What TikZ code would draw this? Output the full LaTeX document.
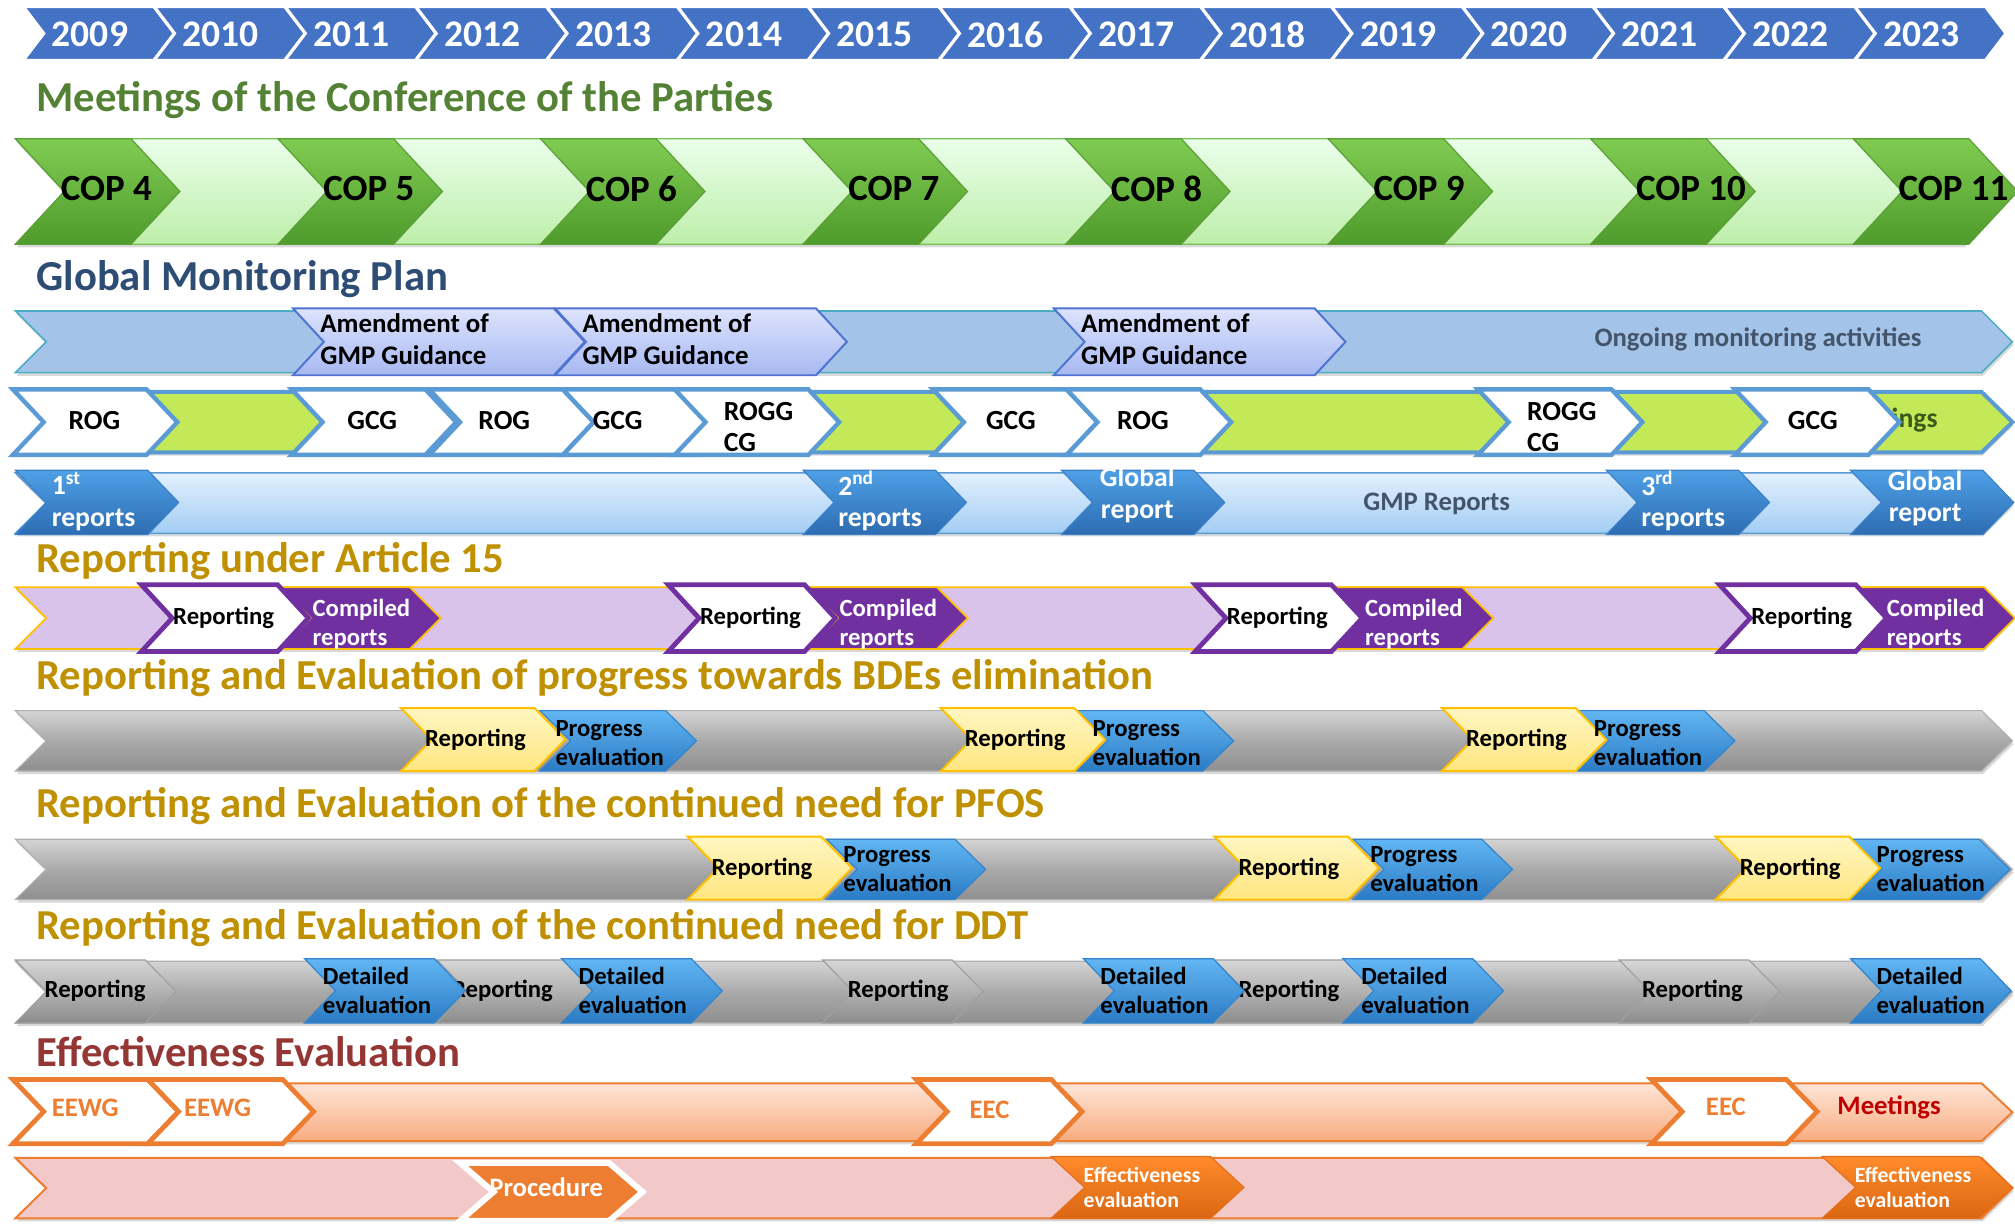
\documentclass[tikz,border=0pt]{standalone}
\usepackage{fontspec}
\setmainfont{Carlito}
\usetikzlibrary{shadows}

\definecolor{yearblue}{HTML}{4472C4}
\definecolor{copgreen}{HTML}{548235}
\definecolor{gmpnavy}{HTML}{2E4D74}
\definecolor{gold}{HTML}{BF9000}
\definecolor{eered}{HTML}{943634}
\definecolor{slate}{HTML}{44546A}
\definecolor{skyline}{HTML}{5B9BD5}
\definecolor{artpurple}{HTML}{7030A0}
\definecolor{amber}{HTML}{FFC000}
\definecolor{eeorange}{HTML}{ED7D31}
\definecolor{meetred}{HTML}{C00000}

% one chevron: [style]{left x}{tip x}{top y}{bottom y}{depth}
\newcommand{\chev}[6][]{%
  \pgfmathsetmacro\chevmid{(#4+#5)/2}%
  \pgfmathsetmacro\chevtop{#3-#6}%
  \path[#1] (#2,#4) -- (\chevtop,#4) -- (#3,\chevmid) -- (\chevtop,#5) -- (#2,#5) -- ({#2+#6},\chevmid) -- cycle;}

\tikzset{
  bandshadow/.style={drop shadow={shadow xshift=0.6pt,shadow yshift=-1.6pt,opacity=0.3}},
  yearbox/.style={fill=yearblue, draw=white, line width=1.6pt},
  yeartxt/.style={text=white, font=\bfseries\fontsize{19}{22}\selectfont},
  heading/.style={anchor=west, inner sep=0pt, font=\bfseries\fontsize{21.6}{25}\selectfont},
  copbg/.style={bandshadow, top color=green!8!white, bottom color={rgb,255:red,189;green,238;blue,170}, draw={rgb,255:red,118;green,193;blue,82}, line width=0.6pt},
  copbox/.style={top color={rgb,255:red,128;green,204;blue,82}, bottom color={rgb,255:red,79;green,155;blue,44}, draw={rgb,255:red,92;green,158;blue,54}, line width=0.6pt},
  coptxt/.style={anchor=west, inner sep=0pt, font=\bfseries\fontsize{18.7}{22}\selectfont},
  gmpbg/.style={bandshadow, fill={rgb,255:red,163;green,196;blue,232}, draw={rgb,255:red,75;green,172;blue,198}, line width=0.8pt},
  ambox/.style={top color={rgb,255:red,220;green,227;blue,252}, bottom color={rgb,255:red,168;green,185;blue,242}, draw={rgb,255:red,79;green,115;blue,209}, line width=1pt},
  amtxt/.style={anchor=west, align=left, inner sep=0pt, font=\bfseries\fontsize{13.6}{16.3}\selectfont},
  greytxt/.style={text=slate, inner sep=0pt, font=\bfseries\fontsize{13.5}{16}\selectfont},
  rogbg/.style={bandshadow, fill={rgb,255:red,195;green,232;blue,88}, draw=skyline, line width=2pt},
  mtgbox/.style={fill=white, draw=skyline, line width=2.2pt},
  rogtxt/.style={anchor=west, align=left, inner sep=0pt, font=\bfseries\fontsize{14}{15.6}\selectfont},
  rptbg/.style={bandshadow, top color={rgb,255:red,227;green,240;blue,253}, bottom color={rgb,255:red,163;green,205;blue,244}, draw=skyline, line width=0.8pt},
  rptbox/.style={top color={rgb,255:red,79;green,160;blue,230}, bottom color={rgb,255:red,45;green,108;blue,178}, draw={rgb,255:red,59;green,128;blue,200}, line width=0.6pt},
  rpttxt/.style={text=white, anchor=west, align=left, inner sep=0pt, font=\bfseries\fontsize{14}{16}\selectfont},
  artbg/.style={bandshadow, fill={rgb,255:red,217;green,195;blue,234}, draw=amber, line width=0.9pt},
  cmpbox/.style={fill=artpurple, draw=amber, line width=0.9pt},
  repbox/.style={fill=white, draw=artpurple, line width=2.4pt},
  smalltxt/.style={inner sep=0pt, font=\bfseries\fontsize{12.5}{14.6}\selectfont},
  graybg/.style={bandshadow, top color={rgb,255:red,212;green,212;blue,212}, bottom color={rgb,255:red,143;green,143;blue,143}, middle color={rgb,255:red,169;green,169;blue,169}, draw={rgb,255:red,176;green,176;blue,176}, line width=0.6pt},
  yelbox/.style={top color={rgb,255:red,255;green,246;blue,194}, bottom color={rgb,255:red,255;green,230;blue,128}, draw=amber, line width=1pt},
  bluebox/.style={top color={rgb,255:red,98;green,182;blue,243}, bottom color={rgb,255:red,43;green,123;blue,196}, draw={rgb,255:red,51;green,132;blue,204}, line width=0.6pt},
  greybox/.style={top color={rgb,255:red,214;green,214;blue,214}, bottom color={rgb,255:red,140;green,140;blue,140}, draw={rgb,255:red,160;green,160;blue,160}, line width=0.6pt},
  eebg/.style={bandshadow, top color={rgb,255:red,253;green,230;blue,216}, bottom color={rgb,255:red,249;green,172;blue,127}, draw=eeorange, line width=1pt},
  eebox/.style={fill=white, draw=eeorange, line width=2.4pt},
  eetxt/.style={text=eeorange, inner sep=0pt, font=\bfseries\fontsize{13.5}{16}\selectfont},
  eebg2/.style={bandshadow, fill={rgb,255:red,242;green,200;blue,200}, draw=eeorange, line width=1pt},
  procbox/.style={fill=eeorange, draw=white, line width=3pt},
  effbox/.style={top color={rgb,255:red,255;green,139;blue,43}, bottom color={rgb,255:red,218;green,102;blue,18}, draw={rgb,255:red,228;green,111;blue,26}, line width=0.6pt},
  efftxt/.style={text=white, anchor=west, align=left, inner sep=0pt, font=\bfseries\fontsize{11}{13}\selectfont}
}

\begin{document}
\begin{tikzpicture}[x=0.65pt,y=-0.65pt]
\useasboundingbox (0,0) rectangle (1568,952);

% years
\foreach \yr [count=\i from 0] in {2009,...,2023}{
  \pgfmathsetmacro\xl{18+101.8*\i}
  \chev[yearbox]{\xl}{\xl+117.8}{5}{47}{16}
  \node[yeartxt] (yr\yr) at (\xl+52,27) {\yr};
}

% conference of the parties
\node[heading, text=copgreen] (copttl) at (28,78) {Meetings of the Conference of the Parties};
\chev[copbg]{12}{1566}{108}{190}{38}
\foreach \n [count=\i from 0] in {4,...,11}{
  \pgfmathsetmacro\xl{12+204.3*\i}
  \chev[copbox]{\xl}{\xl+128}{108}{190}{38}
  \node[coptxt] (cop\n) at (\xl+35,147) {COP \n};
}

% global monitoring plan
\node[heading, text=gmpnavy] (gmpttl) at (28,217) {Global Monitoring Plan};
\chev[gmpbg]{12}{1566}{242}{290}{24}
\foreach \xl [count=\i] in {228,432,820}{
  \chev[ambox]{\xl}{\xl+227}{240}{292}{24}
  \node[amtxt] (amend\i) at (\xl+21,264) {Amendment of\\GMP Guidance};
}
\node[greytxt] (ongoing) at (1368,264) {Ongoing monitoring activities};

\chev[rogbg]{12}{1566}{305}{352}{24}
\node[rogtxt, anchor=east, text={rgb,255:red,58;green,90;blue,26}] (mtgend) at (1508,327) {ings};
\foreach \xl/\tx/\ty/\txt [count=\i] in {10/53/327/ROG, 227/270/327/GCG, 334/372/327/ROG, 438/461/327/GCG, 525/563/332/{ROGG\\CG}, 726/767/327/GCG, 830/869/327/ROG, 1150/1188/332/{ROGG\\CG}, 1350/1391/327/GCG}{
  \chev[mtgbox]{\xl}{\xl+128}{303}{354}{24}
  \node[rogtxt] (grp\i) at (\tx,\ty) {\txt};
}

\chev[rptbg]{12}{1566}{368}{415}{24}
\foreach \xl in {12,625,826,1250,1440}{
  \chev[rptbox]{\xl}{\xl+127}{366}{416}{24}
}
\node[rpttxt] (rpt1) at (40,390) {1\textsuperscript{st}\\reports};
\node[rpttxt] (rpt2) at (652,390) {2\textsuperscript{nd}\\reports};
\node[rpttxt, anchor=center, align=center] (glob1) at (885,385) {Global\\report};
\node[greytxt] (gmprep) at (1118,392) {GMP Reports};
\node[rpttxt] (rpt3) at (1277,390) {3\textsuperscript{rd}\\reports};
\node[rpttxt, anchor=center, align=center] (glob2) at (1498,388) {Global\\report};

% article 15
\node[heading, text=gold] (artttl) at (28,437) {Reporting under Article 15};
\chev[artbg]{12}{1566}{457}{505}{24}
\foreach \r/\c [count=\i] in {110/218, 520/628, 930/1037, 1338/1443}{
  \chev[cmpbox]{\c}{\c+125}{457}{505}{24}
  \chev[repbox]{\r}{\r+130}{455}{507}{24}
  \node[smalltxt] (rep\i) at (\r+64,481) {Reporting};
  \node[smalltxt, text=white, anchor=west, align=left] (cmp\i) at (\c+25,486) {Compiled\\reports};
}

% BDEs
\node[heading, text=gold] (bdettl) at (28,528) {Reporting and Evaluation of progress towards BDEs elimination};
\chev[graybg]{12}{1566}{553}{600}{24}
\foreach \r/\p [count=\i] in {312/420, 732/838, 1122/1228}{
  \chev[bluebox]{\p}{\p+122}{553}{600}{24}
  \chev[yelbox]{\r}{\r+128}{551}{600}{24}
  \node[smalltxt] (bderep\i) at (\r+58,576) {Reporting};
  \node[smalltxt, anchor=west, align=left] (bdeprog\i) at (\p+12,578) {Progress\\evaluation};
}

% PFOS
\node[heading, text=gold] (pfosttl) at (28,627) {Reporting and Evaluation of the continued need for PFOS};
\chev[graybg]{12}{1566}{653}{700}{24}
\foreach \r/\p/\dx [count=\i] in {535/643/13, 945/1053/13, 1335/1440/20}{
  \chev[bluebox]{\p}{\p+124}{653}{700}{24}
  \chev[yelbox]{\r}{\r+128}{651}{700}{24}
  \node[smalltxt] (pfosrep\i) at (\r+58,676) {Reporting};
  \node[smalltxt, anchor=west, align=left] (pfosprog\i) at (\p+\dx,676) {Progress\\evaluation};
}

% DDT
\node[heading, text=gold] (ddtttl) at (28,722) {Reporting and Evaluation of the continued need for DDT};
\chev[graybg]{12}{1566}{748}{796}{24}
\foreach \r/\tx [count=\i] in {12/74, 340/391, 640/699, 945/1003, 1260/1317}{
  \chev[greybox]{\r}{\r+125}{747}{796}{24}
  \node[smalltxt] (ddtrep\i) at (\tx,771) {Reporting};
}
\foreach \d/\tx [count=\i] in {237/251, 437/450, 843/856, 1045/1059, 1440/1460}{
  \chev[bluebox]{\d}{\d+125}{746}{796}{24}
  \node[smalltxt, anchor=west, align=left] (ddtdet\i) at (\tx,771) {Detailed\\evaluation};
}

% effectiveness evaluation
\node[heading, text=eered] (eettl) at (28,818) {Effectiveness Evaluation};
\chev[eebg]{12}{1566}{843}{888}{24}
\foreach \xl in {10,115,713,1285}{
  \chev[eebox]{\xl}{\xl+129}{840}{890}{24}
}
\node[eetxt, anchor=west] (eewg1) at (40,862) {EEWG};
\node[eetxt, anchor=west] (eewg2) at (143,862) {EEWG};
\node[eetxt] (eec1) at (770,864) {EEC};
\node[eetxt] (eec2) at (1343,861) {EEC};
\node[eetxt, text=meetred] (eemtg) at (1470,862) {Meetings};

\chev[eebg2]{12}{1566}{901}{948}{24}
\chev[procbox]{358}{500}{905}{950}{26}
\node[eetxt, text=white] (proc) at (425,924) {Procedure};
\chev[effbox]{818}{968}{900}{948}{26}
\chev[effbox]{1418}{1566}{900}{948}{26}
\node[efftxt] (eff1) at (843,924) {Effectiveness\\evaluation};
\node[efftxt] (eff2) at (1443,924) {Effectiveness\\evaluation};
\end{tikzpicture}
\end{document}
